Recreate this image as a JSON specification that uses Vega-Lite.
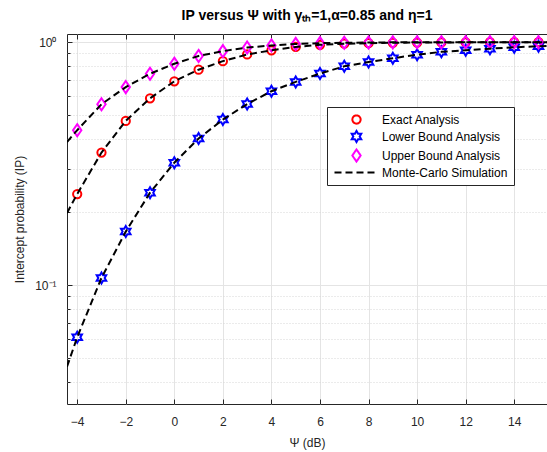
{
  "$schema": "https://vega.github.io/schema/vega-lite/v6.json",
  "width": 480,
  "height": 370,
  "autosize": {"type": "none"},
  "padding": {"left": 67, "top": 34, "right": 0, "bottom": 48},
  "background": "white",
  "config": {
    "font": "Liberation Sans",
    "view": {"stroke": "#262626", "strokeWidth": 1},
    "axis": {
      "labelFont": "Liberation Sans",
      "titleFont": "Liberation Sans",
      "labelFontSize": 12,
      "titleFontSize": 12,
      "labelColor": "#262626",
      "titleColor": "#262626",
      "titleFontWeight": "normal",
      "domain": false,
      "tickColor": "#262626",
      "gridColor": "#e4e4e4",
      "gridOpacity": 1
    },
    "legend": {
      "title": null,
      "orient": "none",
      "legendX": 260,
      "legendY": 73,
      "padding": 6,
      "strokeColor": "#262626",
      "fillColor": "#ffffff",
      "labelFont": "Liberation Sans",
      "labelFontSize": 12,
      "labelColor": "#000000",
      "symbolOffset": 17,
      "labelOffset": 19,
      "rowPadding": -1,
      "symbolSize": 121,
      "symbolStrokeWidth": 2,
      "symbolFillColor": "transparent"
    }
  },
  "title": {
    "text": "IP versus Ψ with γₜₕ=1,α=0.85 and η=1",
    "font": "Liberation Sans",
    "fontSize": 14,
    "fontWeight": "bold",
    "color": "#000000",
    "anchor": "middle",
    "frame": "group",
    "baseline": "alphabetic",
    "offset": 0,
    "dx": 0
  },
  "datasets": {
    "markers": [
      {"psi": -4, "series": "Exact Analysis", "ip": 0.237},
      {"psi": -3, "series": "Exact Analysis", "ip": 0.351},
      {"psi": -2, "series": "Exact Analysis", "ip": 0.474},
      {"psi": -1, "series": "Exact Analysis", "ip": 0.587},
      {"psi": 0, "series": "Exact Analysis", "ip": 0.69},
      {"psi": 1, "series": "Exact Analysis", "ip": 0.77},
      {"psi": 2, "series": "Exact Analysis", "ip": 0.835},
      {"psi": 3, "series": "Exact Analysis", "ip": 0.89},
      {"psi": 4, "series": "Exact Analysis", "ip": 0.925},
      {"psi": 5, "series": "Exact Analysis", "ip": 0.955},
      {"psi": 6, "series": "Exact Analysis", "ip": 0.975},
      {"psi": 7, "series": "Exact Analysis", "ip": 0.985},
      {"psi": 8, "series": "Exact Analysis", "ip": 0.99},
      {"psi": 9, "series": "Exact Analysis", "ip": 0.994},
      {"psi": 10, "series": "Exact Analysis", "ip": 0.996},
      {"psi": 11, "series": "Exact Analysis", "ip": 0.997},
      {"psi": 12, "series": "Exact Analysis", "ip": 0.998},
      {"psi": 13, "series": "Exact Analysis", "ip": 0.999},
      {"psi": 14, "series": "Exact Analysis", "ip": 0.999},
      {"psi": 15, "series": "Exact Analysis", "ip": 0.9995},
      {"psi": -4, "series": "Lower Bound Analysis", "ip": 0.061},
      {"psi": -3, "series": "Lower Bound Analysis", "ip": 0.107},
      {"psi": -2, "series": "Lower Bound Analysis", "ip": 0.166},
      {"psi": -1, "series": "Lower Bound Analysis", "ip": 0.24},
      {"psi": 0, "series": "Lower Bound Analysis", "ip": 0.319},
      {"psi": 1, "series": "Lower Bound Analysis", "ip": 0.401},
      {"psi": 2, "series": "Lower Bound Analysis", "ip": 0.48},
      {"psi": 3, "series": "Lower Bound Analysis", "ip": 0.556},
      {"psi": 4, "series": "Lower Bound Analysis", "ip": 0.628},
      {"psi": 5, "series": "Lower Bound Analysis", "ip": 0.686},
      {"psi": 6, "series": "Lower Bound Analysis", "ip": 0.742},
      {"psi": 7, "series": "Lower Bound Analysis", "ip": 0.795},
      {"psi": 8, "series": "Lower Bound Analysis", "ip": 0.828},
      {"psi": 9, "series": "Lower Bound Analysis", "ip": 0.858},
      {"psi": 10, "series": "Lower Bound Analysis", "ip": 0.888},
      {"psi": 11, "series": "Lower Bound Analysis", "ip": 0.912},
      {"psi": 12, "series": "Lower Bound Analysis", "ip": 0.925},
      {"psi": 13, "series": "Lower Bound Analysis", "ip": 0.94},
      {"psi": 14, "series": "Lower Bound Analysis", "ip": 0.952},
      {"psi": 15, "series": "Lower Bound Analysis", "ip": 0.962},
      {"psi": -4, "series": "Upper Bound Analysis", "ip": 0.434},
      {"psi": -3, "series": "Upper Bound Analysis", "ip": 0.555},
      {"psi": -2, "series": "Upper Bound Analysis", "ip": 0.653},
      {"psi": -1, "series": "Upper Bound Analysis", "ip": 0.741},
      {"psi": 0, "series": "Upper Bound Analysis", "ip": 0.815},
      {"psi": 1, "series": "Upper Bound Analysis", "ip": 0.877},
      {"psi": 2, "series": "Upper Bound Analysis", "ip": 0.918},
      {"psi": 3, "series": "Upper Bound Analysis", "ip": 0.95},
      {"psi": 4, "series": "Upper Bound Analysis", "ip": 0.969},
      {"psi": 5, "series": "Upper Bound Analysis", "ip": 0.983},
      {"psi": 6, "series": "Upper Bound Analysis", "ip": 0.99},
      {"psi": 7, "series": "Upper Bound Analysis", "ip": 0.994},
      {"psi": 8, "series": "Upper Bound Analysis", "ip": 0.996},
      {"psi": 9, "series": "Upper Bound Analysis", "ip": 0.998},
      {"psi": 10, "series": "Upper Bound Analysis", "ip": 0.999},
      {"psi": 11, "series": "Upper Bound Analysis", "ip": 0.9993},
      {"psi": 12, "series": "Upper Bound Analysis", "ip": 0.9995},
      {"psi": 13, "series": "Upper Bound Analysis", "ip": 0.9997},
      {"psi": 14, "series": "Upper Bound Analysis", "ip": 0.9998},
      {"psi": 15, "series": "Upper Bound Analysis", "ip": 0.9999}
    ],
    "simulation": [
      {"psi": -4.42, "curve": "Exact", "series": "Monte-Carlo Simulation", "ip": 0.198},
      {"psi": -4, "curve": "Exact", "series": "Monte-Carlo Simulation", "ip": 0.237},
      {"psi": -3, "curve": "Exact", "series": "Monte-Carlo Simulation", "ip": 0.351},
      {"psi": -2, "curve": "Exact", "series": "Monte-Carlo Simulation", "ip": 0.474},
      {"psi": -1, "curve": "Exact", "series": "Monte-Carlo Simulation", "ip": 0.587},
      {"psi": 0, "curve": "Exact", "series": "Monte-Carlo Simulation", "ip": 0.69},
      {"psi": 1, "curve": "Exact", "series": "Monte-Carlo Simulation", "ip": 0.77},
      {"psi": 2, "curve": "Exact", "series": "Monte-Carlo Simulation", "ip": 0.835},
      {"psi": 3, "curve": "Exact", "series": "Monte-Carlo Simulation", "ip": 0.89},
      {"psi": 4, "curve": "Exact", "series": "Monte-Carlo Simulation", "ip": 0.925},
      {"psi": 5, "curve": "Exact", "series": "Monte-Carlo Simulation", "ip": 0.955},
      {"psi": 6, "curve": "Exact", "series": "Monte-Carlo Simulation", "ip": 0.975},
      {"psi": 7, "curve": "Exact", "series": "Monte-Carlo Simulation", "ip": 0.985},
      {"psi": 8, "curve": "Exact", "series": "Monte-Carlo Simulation", "ip": 0.99},
      {"psi": 9, "curve": "Exact", "series": "Monte-Carlo Simulation", "ip": 0.994},
      {"psi": 10, "curve": "Exact", "series": "Monte-Carlo Simulation", "ip": 0.996},
      {"psi": 11, "curve": "Exact", "series": "Monte-Carlo Simulation", "ip": 0.997},
      {"psi": 12, "curve": "Exact", "series": "Monte-Carlo Simulation", "ip": 0.998},
      {"psi": 13, "curve": "Exact", "series": "Monte-Carlo Simulation", "ip": 0.999},
      {"psi": 14, "curve": "Exact", "series": "Monte-Carlo Simulation", "ip": 0.999},
      {"psi": 15, "curve": "Exact", "series": "Monte-Carlo Simulation", "ip": 0.9995},
      {"psi": 15.4, "curve": "Exact", "series": "Monte-Carlo Simulation", "ip": 0.9996},
      {"psi": -4.42, "curve": "Lower", "series": "Monte-Carlo Simulation", "ip": 0.0461},
      {"psi": -4, "curve": "Lower", "series": "Monte-Carlo Simulation", "ip": 0.061},
      {"psi": -3, "curve": "Lower", "series": "Monte-Carlo Simulation", "ip": 0.107},
      {"psi": -2, "curve": "Lower", "series": "Monte-Carlo Simulation", "ip": 0.166},
      {"psi": -1, "curve": "Lower", "series": "Monte-Carlo Simulation", "ip": 0.24},
      {"psi": 0, "curve": "Lower", "series": "Monte-Carlo Simulation", "ip": 0.319},
      {"psi": 1, "curve": "Lower", "series": "Monte-Carlo Simulation", "ip": 0.401},
      {"psi": 2, "curve": "Lower", "series": "Monte-Carlo Simulation", "ip": 0.48},
      {"psi": 3, "curve": "Lower", "series": "Monte-Carlo Simulation", "ip": 0.556},
      {"psi": 4, "curve": "Lower", "series": "Monte-Carlo Simulation", "ip": 0.628},
      {"psi": 5, "curve": "Lower", "series": "Monte-Carlo Simulation", "ip": 0.686},
      {"psi": 6, "curve": "Lower", "series": "Monte-Carlo Simulation", "ip": 0.742},
      {"psi": 7, "curve": "Lower", "series": "Monte-Carlo Simulation", "ip": 0.795},
      {"psi": 8, "curve": "Lower", "series": "Monte-Carlo Simulation", "ip": 0.828},
      {"psi": 9, "curve": "Lower", "series": "Monte-Carlo Simulation", "ip": 0.858},
      {"psi": 10, "curve": "Lower", "series": "Monte-Carlo Simulation", "ip": 0.888},
      {"psi": 11, "curve": "Lower", "series": "Monte-Carlo Simulation", "ip": 0.912},
      {"psi": 12, "curve": "Lower", "series": "Monte-Carlo Simulation", "ip": 0.925},
      {"psi": 13, "curve": "Lower", "series": "Monte-Carlo Simulation", "ip": 0.94},
      {"psi": 14, "curve": "Lower", "series": "Monte-Carlo Simulation", "ip": 0.952},
      {"psi": 15, "curve": "Lower", "series": "Monte-Carlo Simulation", "ip": 0.962},
      {"psi": 15.4, "curve": "Lower", "series": "Monte-Carlo Simulation", "ip": 0.965},
      {"psi": -4.42, "curve": "Upper", "series": "Monte-Carlo Simulation", "ip": 0.388},
      {"psi": -4, "curve": "Upper", "series": "Monte-Carlo Simulation", "ip": 0.434},
      {"psi": -3, "curve": "Upper", "series": "Monte-Carlo Simulation", "ip": 0.555},
      {"psi": -2, "curve": "Upper", "series": "Monte-Carlo Simulation", "ip": 0.653},
      {"psi": -1, "curve": "Upper", "series": "Monte-Carlo Simulation", "ip": 0.741},
      {"psi": 0, "curve": "Upper", "series": "Monte-Carlo Simulation", "ip": 0.815},
      {"psi": 1, "curve": "Upper", "series": "Monte-Carlo Simulation", "ip": 0.877},
      {"psi": 2, "curve": "Upper", "series": "Monte-Carlo Simulation", "ip": 0.918},
      {"psi": 3, "curve": "Upper", "series": "Monte-Carlo Simulation", "ip": 0.95},
      {"psi": 4, "curve": "Upper", "series": "Monte-Carlo Simulation", "ip": 0.969},
      {"psi": 5, "curve": "Upper", "series": "Monte-Carlo Simulation", "ip": 0.983},
      {"psi": 6, "curve": "Upper", "series": "Monte-Carlo Simulation", "ip": 0.99},
      {"psi": 7, "curve": "Upper", "series": "Monte-Carlo Simulation", "ip": 0.994},
      {"psi": 8, "curve": "Upper", "series": "Monte-Carlo Simulation", "ip": 0.996},
      {"psi": 9, "curve": "Upper", "series": "Monte-Carlo Simulation", "ip": 0.998},
      {"psi": 10, "curve": "Upper", "series": "Monte-Carlo Simulation", "ip": 0.999},
      {"psi": 11, "curve": "Upper", "series": "Monte-Carlo Simulation", "ip": 0.9993},
      {"psi": 12, "curve": "Upper", "series": "Monte-Carlo Simulation", "ip": 0.9995},
      {"psi": 13, "curve": "Upper", "series": "Monte-Carlo Simulation", "ip": 0.9997},
      {"psi": 14, "curve": "Upper", "series": "Monte-Carlo Simulation", "ip": 0.9998},
      {"psi": 15, "curve": "Upper", "series": "Monte-Carlo Simulation", "ip": 0.9999},
      {"psi": 15.4, "curve": "Upper", "series": "Monte-Carlo Simulation", "ip": 0.9999}
    ]
  },
  "encoding": {
    "y": {
      "field": "ip",
      "type": "quantitative",
      "scale": {"type": "log", "domain": [0.0324, 1.08], "nice": false},
      "axis": {
        "title": "Intercept probability (IP)",
        "values": [0.04, 0.05, 0.06, 0.07, 0.08, 0.09, 0.1, 0.2, 0.3, 0.4, 0.5, 0.6, 0.7, 0.8, 0.9, 1],
        "labelExpr": "datum.value == 1 ? '10⁰' : (datum.value == 0.1 ? '10⁻¹' : '')",
        "tickSize": {"condition": {"test": "datum.value == 1 || datum.value == 0.1", "value": -5}, "value": -3},
        "gridDash": {"condition": {"test": "datum.value == 1 || datum.value == 0.1", "value": []}, "value": [1, 2]},
        "gridColor": {"condition": {"test": "datum.value == 1 || datum.value == 0.1", "value": "#e4e4e4"}, "value": "#d6d6d6"},
        "labelPadding": 16,
        "titlePadding": 8,
        "labelFlush": false
      }
    }
  },
  "resolve": {"axis": {"x": "independent"}},
  "layer": [
    {
      "data": {"name": "markers"},
      "mark": {"type": "point", "filled": false, "strokeWidth": 2, "size": 121, "opacity": 1, "clip": true},
      "encoding": {
        "x": {
          "field": "psi",
          "type": "quantitative",
          "scale": {"domain": [-4.42, 15.35], "nice": false, "zero": false},
          "axis": {
            "title": "Ψ (dB)",
            "values": [-4, -2, 0, 2, 4, 6, 8, 10, 12, 14],
            "tickSize": -5,
            "labelPadding": 17,
            "titlePadding": 10,
            "labelFlush": false
          }
        },
        "color": {
          "field": "series",
          "type": "nominal",
          "scale": {
            "domain": ["Exact Analysis", "Lower Bound Analysis", "Upper Bound Analysis", "Monte-Carlo Simulation"],
            "range": ["#ff0000", "#0000ff", "#ff00ff", "#000000"]
          }
        },
        "shape": {
          "field": "series",
          "type": "nominal",
          "scale": {
            "domain": ["Exact Analysis", "Lower Bound Analysis", "Upper Bound Analysis", "Monte-Carlo Simulation"],
            "range": [
              "M-0.75,0A0.75,0.75 0 1,0 0.75,0A0.75,0.75 0 1,0 -0.75,0Z",
              "M0,-1L0.2887,-0.5L0.866,-0.5L0.577,0L0.866,0.5L0.2887,0.5L0,1L-0.2887,0.5L-0.866,0.5L-0.577,0L-0.866,-0.5L-0.2887,-0.5Z",
              "M0,-1.1L0.76,0L0,1.1L-0.76,0Z",
              "M-4,0L4,0"
            ]
          }
        }
      }
    },
    {
      "data": {"name": "simulation"},
      "mark": {"type": "line", "strokeWidth": 2, "clip": true},
      "encoding": {
        "x": {
          "field": "psi",
          "type": "quantitative",
          "axis": {
            "orient": "top",
            "title": null,
            "labels": false,
            "grid": false,
            "values": [-4, -2, 0, 2, 4, 6, 8, 10, 12, 14],
            "tickSize": -5
          }
        },
        "color": {"field": "series", "type": "nominal"},
        "strokeDash": {
          "field": "series",
          "type": "nominal",
          "scale": {
            "domain": ["Exact Analysis", "Lower Bound Analysis", "Upper Bound Analysis", "Monte-Carlo Simulation"],
            "range": [[1, 0], [1, 0], [1, 0], [7, 4]]
          }
        },
        "detail": {"field": "curve", "type": "nominal"}
      }
    }
  ]
}
